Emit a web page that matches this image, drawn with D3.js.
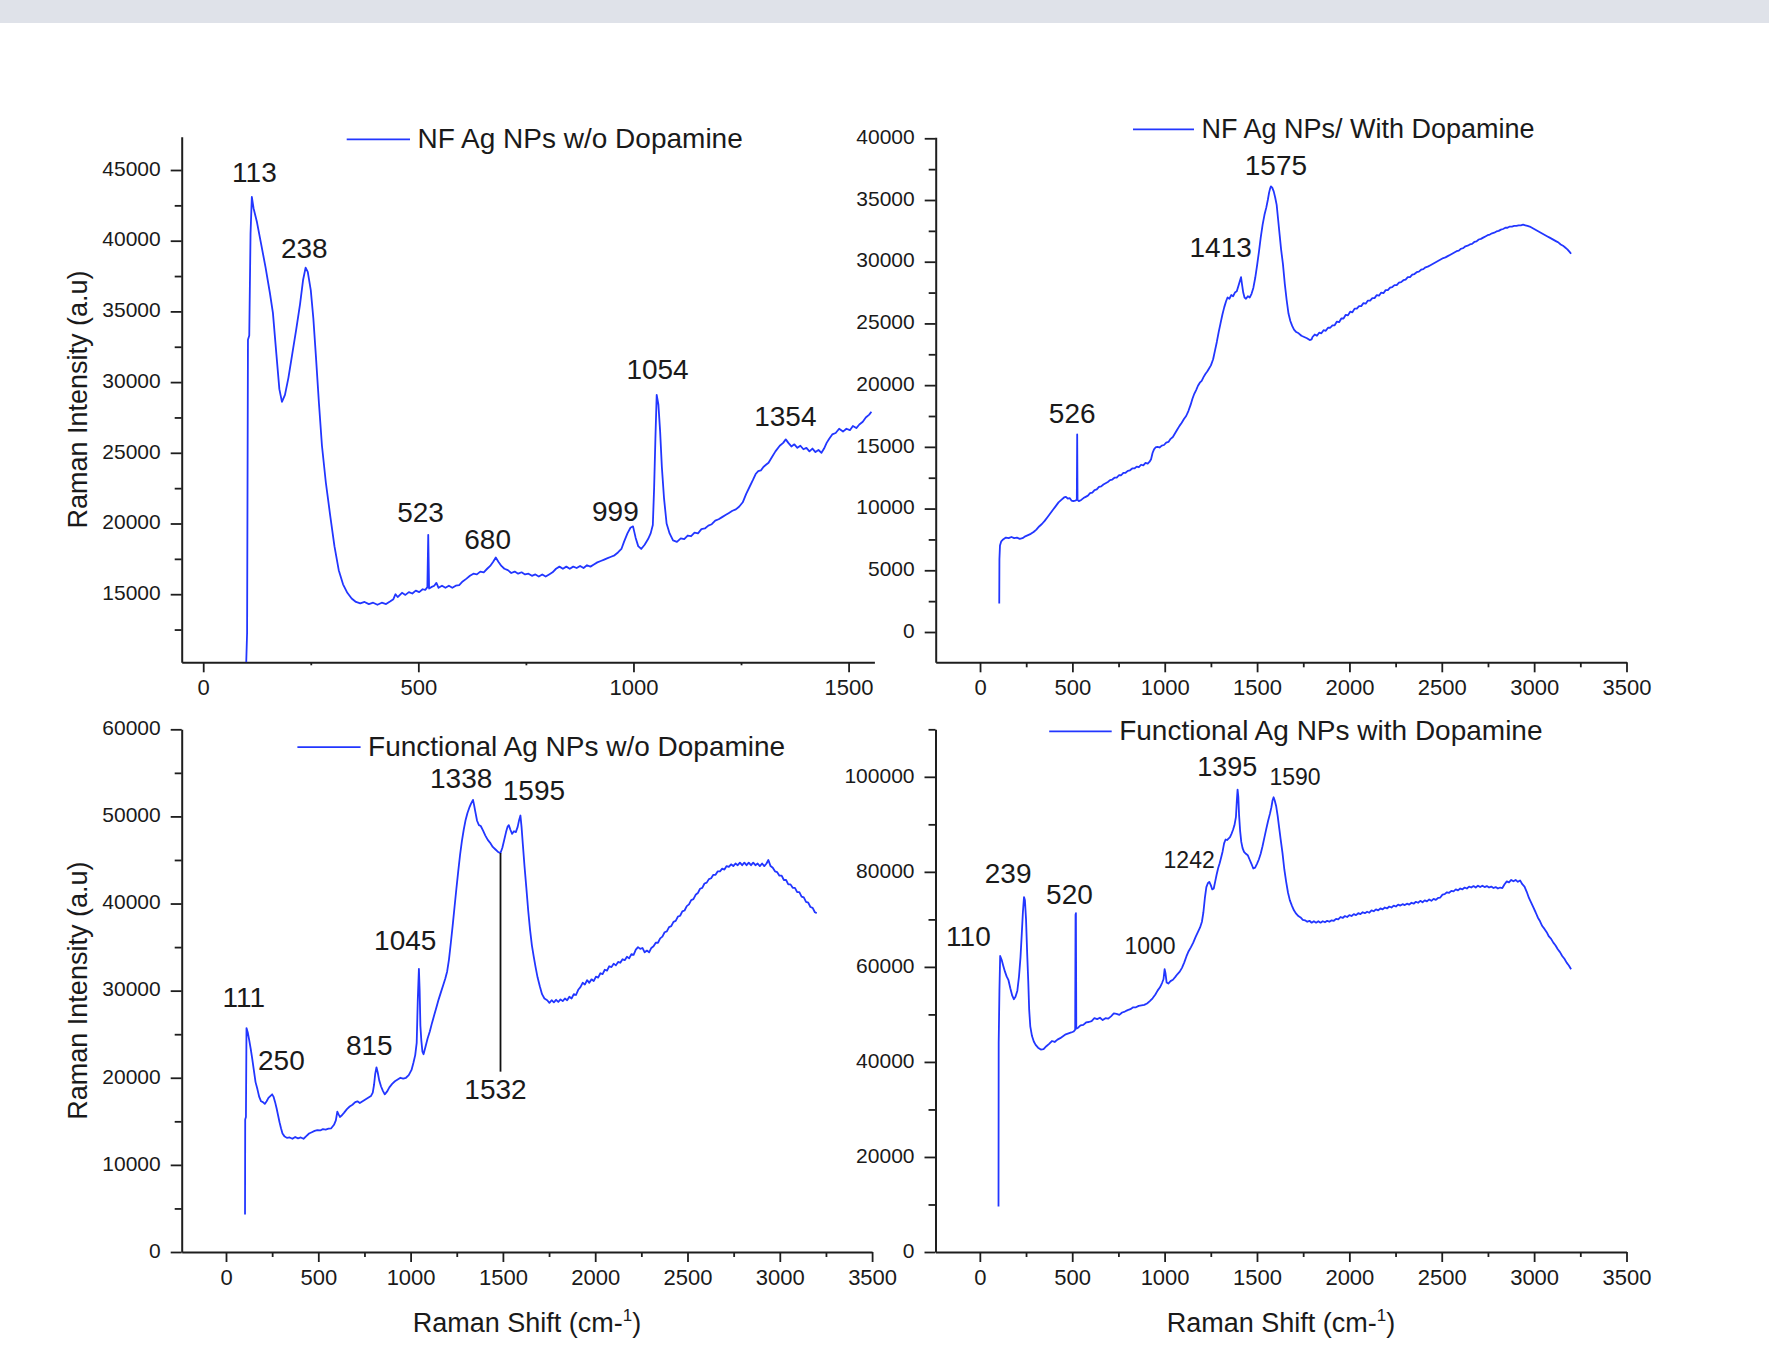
<!DOCTYPE html>
<html>
<head>
<meta charset="utf-8">
<script src="https://cdn.jsdelivr.net/npm/d3@7"></script>
<style>
  html, body { margin: 0; padding: 0; background: #ffffff; }
  svg { display: block; }
  text { font-family: "Liberation Sans", Arial, sans-serif; fill: #1a1a1a; }
</style>
</head>
<body>
<svg id="chart" width="1769" height="1348"></svg>
<script>
// Raman spectra: [Raman shift (cm-1), intensity (a.u.)]
const nfWithoutDopamine = [
  [100,10190],[102,12270],[104,33000],[107,33300],[110,40500],[113,43100],[117,42300],[125,41300],[135,39700],
  [145,38100],[155,36300],[162,34900],[170,32000],[177,29500],[183,28600],[190,29100],[198,30300],[207,32000],
  [216,33700],[225,35500],[232,37200],[238,38100],[243,37800],[250,36500],[256,34500],[262,31800],[269,28500],
  [276,25500],[285,22900],[295,20600],[305,18400],[315,16700],[325,15700],[335,15100],[345,14700],[355,14450],
  [365,14350],[375,14450],[385,14300],[395,14400],[405,14250],[415,14400],[425,14300],[435,14500],[442,14650],
  [447,15000],[452,14800],[462,15100],[470,14950],[478,15150],[486,15050],[494,15250],[502,15150],[510,15350],
  [516,15300],[521,15500],[523,19200],[525,15400],[530,15500],[537,15600],[542,15800],[547,15450],[555,15600],
  [563,15450],[571,15600],[579,15450],[587,15600],[595,15650],[603,15900],[612,16100],[620,16300],[628,16450],
  [636,16400],[644,16600],[652,16550],[660,16800],[667,17000],[674,17300],[680,17600],[686,17300],[693,17000],
  [700,16800],[708,16700],[716,16500],[724,16600],[732,16450],[740,16550],[748,16400],[756,16450],[764,16300],
  [772,16400],[780,16250],[788,16400],[796,16250],[804,16400],[812,16550],[820,16800],[828,16950],[836,16800],
  [844,16950],[852,16800],[860,16950],[868,16850],[876,17000],[884,16850],[892,17050],[900,16950],[908,17100],
  [916,17250],[924,17350],[932,17450],[940,17550],[948,17650],[956,17750],[964,17950],[972,18200],[978,18700],
  [986,19300],[993,19700],[999,19800],[1005,19000],[1011,18400],[1018,18200],[1026,18500],[1034,18900],[1040,19300],
  [1045,19900],[1048,22500],[1051,26000],[1054,29100],[1058,28400],[1062,26500],[1066,24000],[1071,21800],
  [1077,20000],[1084,19300],[1092,18800],[1101,18700],[1110,18950],[1118,18900],[1126,19150],[1134,19100],
  [1142,19350],[1150,19300],[1158,19600],[1166,19650],[1174,19850],[1182,19950],[1190,20200],[1198,20300],
  [1206,20450],[1214,20600],[1222,20750],[1230,20900],[1238,21000],[1246,21200],[1254,21500],[1262,22100],
  [1270,22600],[1278,23100],[1284,23500],[1290,23700],[1296,23750],[1302,24000],[1308,24150],[1314,24300],
  [1322,24700],[1330,25100],[1340,25500],[1348,25700],[1354,25950],[1360,25700],[1367,25450],[1374,25600],
  [1381,25350],[1388,25500],[1395,25250],[1402,25350],[1409,25100],[1416,25300],[1423,25050],[1430,25200],
  [1437,25000],[1443,25300],[1449,25700],[1455,26000],[1462,26300],[1470,26400],[1478,26700],[1487,26500],
  [1495,26700],[1503,26600],[1510,26900],[1518,26750],[1525,27000],[1533,27200],[1540,27500],[1548,27700],
  [1553,27900]
];

const nfWithDopamine = [
  [104,2300],[105,5900],[108,7000],[115,7350],[125,7500],[140,7650],[155,7600],[170,7700],[185,7600],[200,7650],
  [215,7550],[230,7600],[245,7750],[260,7850],[275,7950],[290,8100],[305,8300],[320,8550],[335,8750],[350,9000],
  [365,9300],[380,9600],[395,9900],[410,10200],[425,10500],[440,10700],[455,10900],[465,10950],[475,10800],
  [485,10850],[495,10650],[505,10600],[515,10650],[524,10700],[526,16000],[528,10700],[535,10600],[548,10700],
  [560,10850],[572,10950],[584,11050],[596,11250],[608,11300],[620,11500],[632,11550],[644,11750],[656,11800],
  [668,11950],[680,12050],[692,12150],[704,12300],[716,12350],[728,12500],[740,12500],[752,12700],[764,12700],
  [776,12900],[788,12900],[800,13050],[812,13100],[824,13250],[836,13250],[848,13400],[860,13350],[872,13550],
  [884,13500],[896,13700],[908,13650],[918,13800],[926,14000],[934,14500],[942,14800],[950,14950],[960,15000],
  [972,14950],[984,15100],[996,15150],[1008,15350],[1020,15400],[1032,15650],[1044,15800],[1056,16100],
  [1068,16400],[1080,16700],[1092,16950],[1104,17250],[1116,17500],[1128,17900],[1140,18400],[1150,18900],
  [1160,19300],[1170,19600],[1180,19950],[1190,20200],[1200,20350],[1210,20650],[1220,20900],[1230,21100],
  [1240,21350],[1250,21600],[1262,22100],[1272,22800],[1282,23500],[1292,24300],[1302,25000],[1312,25700],
  [1322,26300],[1332,26800],[1340,27100],[1350,27000],[1360,27300],[1370,27200],[1380,27500],[1390,27600],
  [1398,28000],[1406,28400],[1413,28750],[1418,28200],[1425,27500],[1432,27100],[1440,27000],[1450,27200],
  [1460,27100],[1470,27400],[1480,27900],[1490,28700],[1500,29700],[1510,30800],[1520,32000],[1530,33000],
  [1540,33800],[1550,34400],[1558,35000],[1565,35600],[1570,35900],[1575,36100],[1582,36000],[1590,35700],
  [1598,35200],[1606,34600],[1614,33400],[1622,32200],[1630,31000],[1640,29800],[1650,28200],[1660,26900],
  [1670,25800],[1680,25200],[1690,24800],[1700,24500],[1712,24300],[1725,24200],[1740,24000],[1755,23900],
  [1770,23800],[1785,23650],[1795,23700],[1800,23900],[1812,24100],[1824,24000],[1836,24250],[1848,24200],
  [1860,24450],[1872,24400],[1884,24650],[1896,24650],[1908,24850],[1920,24850],[1932,25150],[1944,25100],
  [1956,25400],[1968,25400],[1980,25700],[1992,25650],[2004,25950],[2016,25900],[2028,26200],[2040,26200],
  [2052,26400],[2064,26400],[2076,26650],[2088,26600],[2100,26850],[2112,26850],[2124,27050],[2136,27050],
  [2148,27300],[2160,27250],[2172,27500],[2184,27450],[2196,27700],[2208,27700],[2220,27900],[2232,27950],
  [2244,28100],[2256,28100],[2268,28300],[2280,28350],[2292,28500],[2304,28550],[2316,28750],[2328,28750],
  [2340,28950],[2352,29000],[2364,29150],[2376,29200],[2388,29350],[2400,29400],[2412,29550],[2424,29600],
  [2436,29700],[2448,29800],[2460,29900],[2472,30000],[2484,30100],[2496,30200],[2508,30300],[2520,30350],
  [2532,30450],[2544,30550],[2556,30650],[2568,30750],[2580,30850],[2592,30900],[2604,31050],[2616,31100],
  [2628,31250],[2640,31300],[2652,31400],[2664,31450],[2676,31600],[2688,31650],[2700,31800],[2712,31850],
  [2724,31950],[2736,32050],[2748,32150],[2760,32200],[2772,32300],[2784,32350],[2796,32450],[2808,32500],
  [2820,32600],[2832,32650],[2844,32750],[2856,32750],[2868,32850],[2880,32850],[2892,32900],[2904,32900],
  [2916,32950],[2928,32950],[2940,33000],[2952,32950],[2964,32900],[2976,32850],[2988,32750],[3000,32650],
  [3012,32550],[3024,32450],[3036,32350],[3048,32250],[3060,32150],[3072,32050],[3084,31950],[3096,31850],
  [3108,31750],[3120,31650],[3132,31550],[3144,31400],[3156,31300],[3168,31150],[3180,31000],[3192,30800],
  [3200,30650]
];

const functionalWithoutDopamine = [
  [103,4300],[104,15200],[108,15500],[111,25700],[118,25200],[126,24300],[134,23300],[142,22200],[150,21000],
  [160,19500],[170,18700],[180,17800],[190,17300],[200,17200],[210,17000],[220,17300],[230,17700],[240,17900],
  [250,18100],[258,17800],[266,17200],[274,16500],[282,15700],[290,14900],[298,14200],[306,13600],[316,13300],
  [330,13100],[345,13150],[360,13000],[375,13200],[390,13050],[405,13150],[420,13000],[435,13300],[450,13600],
  [465,13750],[480,13900],[495,14000],[510,13950],[525,14100],[540,14050],[555,14150],[570,14200],[585,14600],
  [595,15100],[603,16100],[610,15800],[618,15500],[628,15700],[640,16000],[655,16400],[670,16700],[685,16900],
  [700,17200],[712,17300],[725,17100],[740,17300],[755,17500],[770,17700],[785,17900],[795,18300],[802,19200],
  [808,20400],[815,21200],[822,20600],[830,19700],[840,19000],[850,18500],[860,18100],[872,18400],[885,18900],
  [900,19300],[915,19600],[930,19800],[945,20000],[960,19900],[975,20000],[990,20300],[1005,20900],[1015,21700],
  [1025,22600],[1033,24000],[1039,29000],[1045,32500],[1049,30000],[1053,26000],[1058,24300],[1064,23000],
  [1070,22700],[1080,23500],[1092,24500],[1104,25300],[1116,26300],[1128,27200],[1140,28100],[1152,29000],
  [1164,29800],[1176,30600],[1188,31400],[1198,32200],[1208,33600],[1218,35500],[1228,37500],[1238,39600],
  [1248,41700],[1258,43700],[1268,45600],[1278,47200],[1288,48500],[1298,49600],[1308,50400],[1318,51000],
  [1328,51500],[1338,51900],[1344,51300],[1350,50600],[1360,49500],[1370,49000],[1380,48900],[1392,48400],
  [1405,47800],[1418,47300],[1430,47000],[1445,46500],[1460,46200],[1475,45900],[1487,45800],[1497,46400],
  [1507,47300],[1517,48200],[1525,48800],[1532,49000],[1540,48500],[1550,48000],[1560,48300],[1570,48200],
  [1580,48800],[1588,49600],[1595,50100],[1601,48800],[1608,46800],[1617,44300],[1627,41800],[1637,39200],
  [1647,37000],[1657,35200],[1667,33900],[1677,32700],[1688,31500],[1700,30500],[1712,29600],[1725,29100],
  [1740,28900],[1752,28600],[1764,28900],[1776,28650],[1788,28950],[1800,28700],[1812,29000],[1824,28800],
  [1836,29100],[1848,28900],[1860,29300],[1872,29100],[1884,29600],[1896,29500],[1908,30100],[1920,30400],
  [1932,30900],[1944,30700],[1956,31200],[1968,30900],[1980,31300],[1992,31100],[2004,31600],[2016,31500],
  [2028,32000],[2040,31900],[2052,32400],[2064,32300],[2076,32800],[2088,32700],[2100,33100],[2112,32900],
  [2124,33300],[2136,33200],[2148,33600],[2160,33500],[2172,33900],[2184,33700],[2196,34200],[2208,34100],
  [2220,34700],[2232,35000],[2244,34800],[2256,34900],[2268,34400],[2280,34600],[2292,34400],[2304,34900],
  [2316,35100],[2328,35500],[2340,35500],[2352,36000],[2364,36200],[2376,36700],[2388,36800],[2400,37300],
  [2412,37400],[2424,37900],[2436,38000],[2448,38500],[2460,38600],[2472,39100],[2484,39200],[2496,39700],
  [2508,39900],[2520,40400],[2532,40500],[2544,41000],[2556,41200],[2568,41700],[2580,41800],[2592,42300],
  [2604,42400],[2616,42800],[2628,42900],[2640,43300],[2652,43300],[2664,43700],[2676,43700],[2688,44000],
  [2700,43900],[2712,44300],[2724,44200],[2736,44500],[2748,44300],[2760,44600],[2772,44400],[2784,44700],
  [2796,44400],[2808,44700],[2820,44400],[2832,44700],[2844,44400],[2856,44700],[2868,44400],[2880,44600],
  [2892,44300],[2904,44600],[2916,44300],[2928,44600],[2938,45000],[2950,44300],[2962,44100],[2974,43700],
  [2986,43600],[2998,43200],[3010,43200],[3022,42700],[3034,42700],[3046,42200],[3058,42200],[3070,41800],
  [3082,41800],[3094,41300],[3106,41300],[3118,40800],[3130,40700],[3142,40200],[3154,40100],[3166,39600],
  [3178,39500],[3190,39000],[3200,38900]
];

const functionalWithDopamine = [
  [101,9600],[102,44000],[106,55000],[110,62300],[118,61500],[127,60200],[136,59000],[145,58000],[155,57200],
  [165,55500],[175,54000],[184,53200],[193,53700],[203,55000],[212,58000],[220,62000],[227,67000],[233,71500],
  [239,74700],[244,74000],[250,70000],[256,63000],[262,57000],[267,51000],[273,47500],[282,45500],[292,44300],
  [302,43600],[315,43000],[330,42600],[345,42700],[360,43300],[375,43800],[390,44400],[405,44200],[420,44700],
  [435,45000],[450,45400],[465,45800],[480,46000],[495,46200],[508,46400],[516,46800],[518,71000],[520,71300],
  [522,47000],[532,47200],[545,47700],[560,47800],[575,48300],[590,48400],[605,48600],[620,49200],[635,49000],
  [650,49300],[665,48800],[680,49200],[695,49100],[710,49600],[725,50200],[740,50100],[755,49900],[770,50400],
  [785,50600],[800,50900],[815,51100],[830,51500],[845,51500],[860,51800],[875,51900],[890,52000],[905,52300],
  [920,52800],[935,53400],[950,54200],[962,55000],[975,55700],[986,56600],[994,57400],[1000,59500],[1005,58600],
  [1011,56700],[1020,56500],[1032,57000],[1045,57300],[1058,57900],[1070,58500],[1082,59000],[1094,59800],
  [1106,60900],[1118,62200],[1130,63300],[1142,64100],[1155,65100],[1168,66300],[1180,67300],[1192,68300],
  [1202,69500],[1210,71500],[1218,74500],[1226,76800],[1234,77600],[1242,77900],[1250,77200],[1258,76300],
  [1266,76500],[1274,78000],[1282,79500],[1290,80800],[1298,81800],[1306,83000],[1314,84300],[1322,86000],
  [1330,86800],[1338,86700],[1346,87000],[1354,87300],[1362,88000],[1370,88800],[1378,89800],[1386,91500],
  [1391,95000],[1395,97300],[1399,95800],[1403,92000],[1409,88500],[1415,86300],[1422,85000],[1430,84200],
  [1440,83800],[1450,83500],[1460,82600],[1470,81700],[1480,80700],[1490,80900],[1500,81700],[1510,82600],
  [1520,83800],[1530,85400],[1540,87200],[1550,89000],[1560,90700],[1570,92200],[1578,93600],[1584,95000],
  [1590,95700],[1596,95000],[1604,93800],[1612,91800],[1620,89300],[1628,86900],[1638,84000],[1648,80500],
  [1658,77900],[1668,75600],[1678,74000],[1690,72800],[1700,71900],[1712,71200],[1724,70700],[1736,70400],
  [1748,69900],[1760,69800],[1772,69500],[1784,69700],[1796,69300],[1808,69600],[1820,69300],[1832,69600],
  [1844,69300],[1856,69600],[1868,69400],[1880,69700],[1892,69500],[1904,69800],[1916,69700],[1928,70100],
  [1940,70000],[1952,70500],[1964,70300],[1976,70700],[1988,70500],[2000,70900],[2012,70700],[2024,71100],
  [2036,70900],[2048,71300],[2060,71100],[2072,71500],[2084,71300],[2096,71600],[2108,71400],[2120,71900],
  [2132,71700],[2144,72100],[2156,71900],[2168,72300],[2180,72100],[2192,72500],[2204,72300],[2216,72700],
  [2228,72500],[2240,72900],[2252,72700],[2264,73100],[2276,72900],[2288,73200],[2300,73000],[2312,73300],
  [2324,73100],[2336,73500],[2348,73300],[2360,73700],[2372,73500],[2384,73900],[2396,73600],[2408,74000],
  [2420,73800],[2432,74200],[2444,73900],[2456,74300],[2468,74100],[2480,74500],[2492,74600],[2504,75200],
  [2516,75300],[2528,75700],[2540,75600],[2552,76000],[2564,75900],[2576,76300],[2588,76100],[2600,76500],
  [2612,76300],[2624,76700],[2636,76500],[2648,76900],[2660,76700],[2672,77000],[2684,76700],[2696,77100],
  [2708,76800],[2720,77100],[2732,76800],[2744,77000],[2756,76700],[2768,76900],[2780,76600],[2792,76800],
  [2804,76500],[2816,76700],[2828,76600],[2840,77400],[2852,78000],[2864,77800],[2876,78300],[2888,78000],
  [2900,78300],[2912,77900],[2924,78200],[2936,77400],[2948,76900],[2960,75800],[2972,74500],[2984,73500],
  [2996,72500],[3008,71500],[3020,70400],[3032,69600],[3044,68600],[3056,68000],[3068,67300],[3080,66400],
  [3092,65900],[3104,65100],[3116,64500],[3128,63700],[3140,63100],[3152,62300],[3164,61700],[3176,60900],
  [3188,60300],[3200,59500]
];

// Legend titles
const seriesNames = [
  "NF Ag NPs w/o Dopamine",
  "NF Ag NPs/ With Dopamine",
  "Functional Ag NPs w/o Dopamine",
  "Functional Ag NPs with Dopamine"
];

// Peak annotations: [label, x anchor, y anchor] in each panel's data units
const peaksA = [["113",119,44150],["238",235,38810],["523",505,20120],["680",661,18170],
                ["999",958,20210],["1054",1056,30230],["1354",1353,26870]];
const peaksB = [["1575",1602,37016],["1413",1303,30381],["526",499,16949]];
const peaksC = [["111",96,28070],["250",300,20940],["815",776,22600],["1045",971,34650],
                ["1338",1274,53290],["1595",1668,51850],["1532",1460,17610]];
const peaksD = [["110",-62,64390],["239",153,77740],["520",485,73210],["1000",921,62640],
                ["1242",1133,80800],["1395",1339,100190],["1590",1706,98270]];
// Leader line from the "1532" label up to the curve: [x, yBottom, yTop]
const leaderC = [1487, 20700, 45800];

// Axis ticks
const xTicksShort = [0, 500, 1000, 1500];
const xMinorShort = [250, 750, 1250];
const xTicksLong = [0, 500, 1000, 1500, 2000, 2500, 3000, 3500];
const xMinorLong = [250, 750, 1250, 1750, 2250, 2750, 3250];
const yTicksA = [15000, 20000, 25000, 30000, 35000, 40000, 45000];
const yMinorA = [12500, 17500, 22500, 27500, 32500, 37500, 42500];
const yTicksB = [0, 5000, 10000, 15000, 20000, 25000, 30000, 35000, 40000];
const yMinorB = [2500, 7500, 12500, 17500, 22500, 27500, 32500, 37500];
const yTicksC = [0, 10000, 20000, 30000, 40000, 50000, 60000];
const yMinorC = [5000, 15000, 25000, 35000, 45000, 55000];
const yTicksD = [0, 20000, 40000, 60000, 80000, 100000];
const yMinorD = [10000, 30000, 50000, 70000, 90000, 110000];

const LINE = "#2236ff";
const AXIS = "#1e1e1e";

const svg = d3.select("#chart");
svg.append("rect").attr("x", 0).attr("y", 0).attr("width", 1769).attr("height", 23).attr("fill", "#dfe2e9");

const panels = [
  { data: nfWithoutDopamine, name: seriesNames[0], peaks: peaksA,
    box: { l: 181.7, r: 874.4, t: 136.7, b: 662.3 }, xd: [-50, 1560], yd: [10184, 47355],
    xt: xTicksShort, xm: xMinorShort, xmLen: 3, yt: yTicksA, ym: yMinorA,
    legend: { x1: 346.7, x2: 410, y: 139.3, size: 28 }, yTitle: true, xTitle: false },
  { data: nfWithDopamine, name: seriesNames[1], peaks: peaksB,
    box: { l: 935.7, r: 1626.5, t: 137.3, b: 662.3 }, xd: [-240, 3500], yd: [-2455, 40080],
    xt: xTicksLong, xm: xMinorLong, xmLen: 5, yt: yTicksB, ym: yMinorB,
    legend: { x1: 1133, x2: 1194, y: 129.3, size: 27 }, yTitle: false, xTitle: false },
  { data: functionalWithoutDopamine, name: seriesNames[2], peaks: peaksC,
    box: { l: 181.7, r: 872.1, t: 729.3, b: 1252 }, xd: [-240, 3500], yd: [0, 60000],
    xt: xTicksLong, xm: xMinorLong, xmLen: 5, yt: yTicksC, ym: yMinorC,
    legend: { x1: 297.4, x2: 360.6, y: 747.2, size: 28 }, yTitle: true, xTitle: true, leader: leaderC },
  { data: functionalWithDopamine, name: seriesNames[3], peaks: peaksD,
    box: { l: 935.5, r: 1626.5, t: 729.3, b: 1252 }, xd: [-240, 3500], yd: [0, 110000],
    xt: xTicksLong, xm: xMinorLong, xmLen: 5, yt: yTicksD, ym: yMinorD,
    legend: { x1: 1049.2, x2: 1111.7, y: 731.3, size: 28 }, yTitle: false, xTitle: true,
    smallPeaks: { "1000": 23, "1242": 23, "1590": 23, "1395": 27 } }
];

panels.forEach((p, i) => {
  const g = svg.append("g");
  const x = d3.scaleLinear().domain(p.xd).range([p.box.l, p.box.r]);
  const y = d3.scaleLinear().domain(p.yd).range([p.box.b, p.box.t]);

  // minor ticks first, then major ticks with labels
  g.append("g").attr("transform", `translate(0,${p.box.b})`)
    .call(d3.axisBottom(x).tickValues(p.xm).tickSize(p.xmLen).tickSizeOuter(0).tickFormat(""))
    .call(s => s.select(".domain").remove());
  g.append("g").attr("transform", `translate(${p.box.l},0)`)
    .call(d3.axisLeft(y).tickValues(p.ym).tickSize(7).tickSizeOuter(0).tickFormat(""))
    .call(s => s.select(".domain").remove());

  const xa = g.append("g").attr("transform", `translate(0,${p.box.b})`)
    .call(d3.axisBottom(x).tickValues(p.xt).tickSize(10).tickSizeOuter(0).tickPadding(15).tickFormat(d3.format("d")));
  const ya = g.append("g").attr("transform", `translate(${p.box.l},0)`)
    .call(d3.axisLeft(y).tickValues(p.yt).tickSize(11).tickSizeOuter(0).tickPadding(10).tickFormat(d3.format("d")));

  xa.selectAll("text").attr("font-size", 22).attr("dy", "0.71em").attr("y", 17);
  ya.selectAll("text").attr("font-size", 21).attr("dy", "0.25em");
  g.selectAll(".domain").attr("stroke", AXIS).attr("stroke-width", 2);
  g.selectAll(".tick line").attr("stroke", AXIS).attr("stroke-width", 1.8);
  g.selectAll(".tick text").style("fill", "#1a1a1a")
    .attr("font-family", "'Liberation Sans', Arial, sans-serif");

  // spectrum
  const clipId = "clip" + i;
  svg.append("clipPath").attr("id", clipId).append("rect")
    .attr("x", p.box.l).attr("y", p.box.t - 2).attr("width", p.box.r - p.box.l).attr("height", p.box.b - p.box.t + 2);
  const line = d3.line().x(d => x(d[0])).y(d => y(d[1]));
  g.append("path").datum(p.data)
    .attr("clip-path", `url(#${clipId})`)
    .attr("d", line).attr("fill", "none")
    .attr("stroke", LINE).attr("stroke-width", 1.8).attr("stroke-linejoin", "round");

  // legend
  g.append("line").attr("x1", p.legend.x1).attr("x2", p.legend.x2)
    .attr("y1", p.legend.y).attr("y2", p.legend.y)
    .attr("stroke", LINE).attr("stroke-width", 1.8);
  g.append("text").attr("x", p.legend.x2 + 7.5).attr("y", p.legend.y + 9)
    .attr("font-size", p.legend.size).text(p.name);

  // peak labels
  p.peaks.forEach(([label, px, py]) => {
    const size = (p.smallPeaks && p.smallPeaks[label]) || 28;
    g.append("text").attr("x", x(px)).attr("y", y(py))
      .attr("text-anchor", "middle").attr("font-size", size).text(label);
  });

  if (p.leader) {
    g.append("line").attr("x1", x(p.leader[0])).attr("x2", x(p.leader[0]))
      .attr("y1", y(p.leader[1])).attr("y2", y(p.leader[2]))
      .attr("stroke", "#111").attr("stroke-width", 1.8);
  }

  if (p.yTitle) {
    g.append("text")
      .attr("transform", `translate(87,${(p.box.t + p.box.b) / 2}) rotate(-90)`)
      .attr("text-anchor", "middle").attr("font-size", 27).text("Raman Intensity (a.u)");
  }
  if (p.xTitle) {
    const t = g.append("text").attr("x", (p.box.l + p.box.r) / 2).attr("y", 1331.7)
      .attr("text-anchor", "middle").attr("font-size", 27);
    t.append("tspan").text("Raman Shift (cm-");
    t.append("tspan").attr("font-size", 17).attr("dy", -11).text("1");
    t.append("tspan").attr("dy", 11).text(")");
  }
});
</script>
</body>
</html>
